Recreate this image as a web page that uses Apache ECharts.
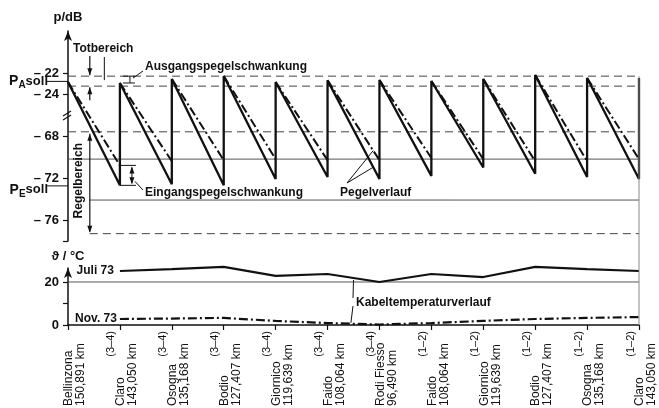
<!DOCTYPE html>
<html><head><meta charset="utf-8">
<script src="https://cdn.jsdelivr.net/npm/echarts@6/dist/echarts.min.js"></script>
<style>html,body{margin:0;padding:0;background:#fff}#c{width:659px;height:408px}</style>
</head><body><div id="c"></div>
<script>
// ---- data ----
const stationNames = ['Bellinzona','Claro','Osogna','Bodio','Giornico','Faido','Rodi Fiesso','Faido','Giornico','Bodio','Osogna','Claro'];
const stationKm = ['150,891 km','143,050 km','135,168 km','127,407 km','119,639 km','108,064 km','96,490 km','108,064 km','119,639 km','127,407 km','135,168 km','143,050 km'];
const sectionLabels = ['','(3–4)','(3–4)','(3–4)','(3–4)','(3–4)','(3–4)','(1–2)','(1–2)','(1–2)','(1–2)','(1–2)'];
// output level at the start of each section (dB), per station
const toothTop = [-22.86,-22.95,-22.57,-22.29,-22.86,-22.7,-22.67,-22.76,-22.57,-22.19,-22.48,-22.48];
// level at the end of each section, July (solid, dB)
const levelEndJuli = [-72.7,-72.6,-72.7,-72.1,-71.9,-72.1,-71.8,-71.0,-71.6,-71.9,-72.1];
// level at the end of each section, November (dash-dot, dB)
const levelEndNov = [-70.8,-70.4,-70.3,-70.2,-70.3,-70.3,-70.1,-70.2,-70.4,-70.4,-70.2];
// temperature (°C) at stations 1..11
const tempStations = [1,2,3,4,5,6,7,8,9,10,11];
const tempJuli = [25.1,26.0,27.0,22.8,23.7,20.0,23.7,22.3,27.0,26.0,25.1];
const tempNov = [2.8,3.0,3.3,1.9,0.9,0.2,0.9,1.9,2.8,3.3,3.7];
// reference levels (dB)
const levelTotUpper = -22.3, levelTotLower = -23.25, levelPAsoll = -22.8;
const levelRegelUpper = -67.6, levelThinUpper = -70.2, levelPEsoll = -72.75, levelThinLower = -74.1, levelRegelLower = -77.3;
const tempRef = 20;
const yTicksDb = [-22,-24,-68,-72,-76];

// broken axis: upper band shifted by 40 dB
const SHIFT = 40;
const vy = db => db > -45 ? db - SHIFT : db;
const realDb = v => v > -66 ? v + SHIFT : v;

const chart = echarts.init(document.getElementById('c'), null, {renderer:'canvas'});
const FONT = 'Liberation Sans, Arial, sans-serif';
const INK = '#111';

const saw = [];
for (let i = 0; i < levelEndJuli.length; i++) { saw.push([i, vy(toothTop[i])]); saw.push([i+1, vy(levelEndJuli[i])]); }
saw.push([11, vy(toothTop[11])]);
const dash = [];
for (let i = 0; i < levelEndNov.length; i++) { dash.push([i, vy(toothTop[i])]); dash.push([i+1, vy(levelEndNov[i])]); dash.push([i+1, '-']); }

function hline(level, x0, type, xi, yi, color) {
  return {type:'line', xAxisIndex:xi, yAxisIndex:yi, symbol:'none', silent:true, animation:false,
    data:[[x0, level],[11, level]], lineStyle:{color:color||'#444', width:1, type:type}, z:1};
}

const option = {
  animation:false,
  backgroundColor:'#fff',
  grid:[
    {left:68, right:20, top:31, height:210, containLabel:false, outerBoundsMode:'none'},
    {left:68, right:20, top:268, height:57, containLabel:false, outerBoundsMode:'none'}
  ],
  xAxis:[
    {gridIndex:0, type:'value', min:0, max:11, show:false},
    {gridIndex:1, type:'value', min:0, max:11, interval:1,
      axisLine:{show:true, onZero:false, lineStyle:{color:INK, width:1.5}},
      axisTick:{show:true, inside:false, length:5, lineStyle:{color:INK, width:1.2}},
      splitLine:{show:false},
      axisLabel:{show:true, rotate:90, margin:6, verticalAlign:'bottom', padding:[0,0,3,0],
        color:INK, fontFamily:FONT, fontSize:11, showMinLabel:true, showMaxLabel:true,
        formatter:v => sectionLabels[Math.round(v)] || ''}},
    {gridIndex:1, type:'value', min:0, max:11, interval:1, position:'bottom',
      axisLine:{show:false}, axisTick:{show:false}, splitLine:{show:false},
      axisLabel:{show:true, rotate:90, margin:81, align:'left', verticalAlign:'top', padding:[-5,0,0,0],
        lineHeight:12, color:INK, fontFamily:FONT, fontSize:12, showMinLabel:true, showMaxLabel:true,
        formatter:v => stationNames[Math.round(v)] + '\n' + stationKm[Math.round(v)]}}
  ],
  yAxis:[
    {gridIndex:0, type:'value', min:-78, max:-58,
      name:'p/dB', nameLocation:'end', nameGap:7, nameTextStyle:{color:INK, fontFamily:FONT, fontSize:13, fontWeight:'bold', align:'center'},
      axisLine:{show:true, onZero:false, symbol:['none','arrow'], symbolSize:[6,10], lineStyle:{color:INK, width:1.5}},
      axisTick:{show:true, length:5, customValues:[-62,-64,-68,-72,-76,-78], lineStyle:{color:INK, width:1.2}},
      splitLine:{show:false},
      axisLabel:{show:true, margin:9, customValues:yTicksDb.map(vy), color:INK, fontFamily:FONT, fontSize:13, fontWeight:'bold',
        formatter:v => '– ' + Math.abs(Math.round(realDb(v)))}},
    {gridIndex:1, type:'value', min:0, max:26.5,
      name:'ϑ / °C', nameLocation:'end', nameGap:5, nameTextStyle:{color:INK, fontFamily:FONT, fontSize:13, fontWeight:'bold', align:'center'},
      axisLine:{show:true, onZero:false, symbol:['none','arrow'], symbolSize:[6,10], lineStyle:{color:INK, width:1.5}},
      axisTick:{show:true, length:5, customValues:[0,10,20], lineStyle:{color:INK, width:1.2}},
      splitLine:{show:false},
      axisLabel:{show:true, margin:9, customValues:[0,20], color:INK, fontFamily:FONT, fontSize:13, fontWeight:'bold'}}
  ],
  series:[
    hline(vy(levelTotUpper), 0, [8,5], 0, 0),
    hline(vy(levelTotLower), 0, [8,5], 0, 0),
    hline(vy(levelRegelUpper), 0, [8,5], 0, 0),
    hline(vy(levelThinUpper), 0, 'solid', 0, 0, '#555'),
    hline(vy(levelThinLower), 0.42, 'solid', 0, 0, '#555'),
    hline(vy(levelRegelLower), 0.42, [8,5], 0, 0),
    hline(tempRef, 0, 'solid', 1, 1, '#555'),
    {type:'line', xAxisIndex:0, yAxisIndex:0, symbol:'none', clip:false, data:saw, lineStyle:{color:INK, width:2.3}, z:3},
    {type:'line', xAxisIndex:0, yAxisIndex:0, symbol:'none', clip:false, data:dash, connectNulls:false, lineStyle:{color:INK, width:2, type:[9,3,2,3]}, z:3},
    {type:'line', xAxisIndex:1, yAxisIndex:1, symbol:'none', clip:false, data:tempStations.map((x,i)=>[x,tempJuli[i]]), lineStyle:{color:INK, width:2.2}, z:3},
    {type:'line', xAxisIndex:1, yAxisIndex:1, symbol:'none', clip:false, data:tempStations.map((x,i)=>[x,tempNov[i]]), lineStyle:{color:INK, width:2.2, type:[9,3,2,3]}, z:3}
  ]
};
chart.setOption(option);

// ---- annotations ----
const P0 = (x, db) => chart.convertToPixel({xAxisIndex:0, yAxisIndex:0}, [x, vy(db)]);
const P1 = (x, t) => chart.convertToPixel({xAxisIndex:1, yAxisIndex:1}, [x, t]);
const g = [];
const txt = (text, x, y, style) => g.push({type:'text', x:x, y:y, silent:true, z:10,
  style:Object.assign({text:text, fill:INK, font:'bold 12px ' + FONT, align:'left', verticalAlign:'middle'}, style || {})});
const ln = (x1,y1,x2,y2,w,c) => g.push({type:'line', silent:true, z:10, shape:{x1,y1,x2,y2}, style:{stroke:c||INK, lineWidth:w||1}});
const arrowHead = (x, y, dir) => { // tip at (x,y), dir +1 pointing down, -1 pointing up
  g.push({type:'polygon', silent:true, z:10, shape:{points:[[x,y],[x-2.5,y-7*dir],[x+2.5,y-7*dir]]}, style:{fill:INK}});
};

const ax = P0(0, levelTotUpper)[0];
const xArr = P0(0.42, levelTotUpper)[0];
// Totbereich
txt('Totbereich', ax + 5, 49);
const yTU = P0(0, levelTotUpper)[1], yTL = P0(0, levelTotLower)[1];
ln(xArr, 56, xArr, yTU - 1, 1.2); arrowHead(xArr, yTU - 1, 1);
ln(xArr, yTL + 14, xArr, yTL + 1, 1.2); arrowHead(xArr, yTL + 1, -1);
const xThin = P0(0.7, 0)[0];
ln(xThin, 57, xThin, yTU + 4, 1);
// Ausgangspegelschwankung
const x1 = P0(1, 0)[0];
const yTop1 = P0(1, toothTop[1])[1];
ln(x1 + 3, yTU, x1 + 15, yTU, 1); ln(x1 + 3, yTop1, x1 + 15, yTop1, 1); ln(x1 + 10, yTU, x1 + 10, yTop1, 1);
ln(x1 + 13, yTU + 2, 143, 71, 1);
txt('Ausgangspegelschwankung', 145, 67);
// Eingangspegelschwankung
const yU0 = P0(1, levelEndNov[0])[1], yL0 = P0(1, levelEndJuli[0])[1];
ln(x1, yU0, x1 + 16, yU0, 1); ln(x1, yL0, x1 + 16, yL0, 1);
ln(x1 + 12, yU0 + 2, x1 + 12, yL0 - 2, 1); arrowHead(x1 + 12, yU0 + 1, -1); arrowHead(x1 + 12, yL0 - 1, 1);
ln(x1 + 15, yL0 - 4, 143, 190, 1);
txt('Eingangspegelschwankung', 145, 193);
// Pegelverlauf (pointing to the July and November level lines of section 5)
const f = 0.88, s = 5;
const vN = vy(toothTop[s]) + f * (vy(levelEndNov[s]) - vy(toothTop[s]));
const vJ = vy(toothTop[s]) + f * (vy(levelEndJuli[s]) - vy(toothTop[s]));
const pN5 = chart.convertToPixel({xAxisIndex:0, yAxisIndex:0}, [s + f, vN]);
const pJ5 = chart.convertToPixel({xAxisIndex:0, yAxisIndex:0}, [s + f, vJ]);
ln(347, 183, pN5[0], pN5[1], 1); ln(347, 183, pJ5[0], pJ5[1], 1);
txt('Pegelverlauf', 340, 193);
// P_A soll / P_E soll
const yPA = P0(0, levelPAsoll)[1], yPE = P0(0, levelPEsoll)[1];
ln(47, yPA, ax, yPA, 1); ln(47, yPE, ax, yPE, 1);
const richPS = {p:{font:'bold 14px ' + FONT, fill:INK}, sub:{font:'bold 10px ' + FONT, fill:INK, padding:[8,0,0,0]}, s:{font:'bold 13px ' + FONT, fill:INK}};
txt('{p|P}{sub|A}{s|soll}', 48, yPA, {align:'right', rich:richPS});
txt('{p|P}{sub|E}{s|soll}', 48, yPE + 4, {align:'right', rich:richPS});
// Regelbereich
const yRU = P0(0, levelRegelUpper)[1], yRL = P0(0, levelRegelLower)[1];
ln(xArr, yRU + 2, xArr, yRL - 2, 1.2); arrowHead(xArr, yRU + 2, -1); arrowHead(xArr, yRL - 1, 1);
g.push({type:'text', x:79, y:(yRU + yRL) / 2 - 2, rotation:Math.PI/2, silent:true, z:10,
  style:{text:'Regelbereich', fill:INK, font:'bold 12px ' + FONT, align:'center', verticalAlign:'middle'}});
// axis break marks
const yb = (P0(0, -24)[1] + P0(0, -68)[1]) / 2 - 2;
ln(ax - 5, yb + 3, ax + 3, yb - 2, 1.2); ln(ax - 5, yb + 7, ax + 3, yb + 2, 1.2);
// right border
const xR = P0(11, 0)[0];
ln(xR, yTU, xR, P1(11, 0)[1], 1, '#888');
// temperature annotations
const pJ = P1(1, tempJuli[0]), pN = P1(1, tempNov[0]);
txt('Juli 73', pJ[0] - 6, pJ[1], {align:'right'});
txt('Nov. 73', pN[0] - 3, pN[1], {align:'right'});
const kJ = P1(5.5, (tempJuli[4] + tempJuli[5]) / 2), kN = P1(5.45, (tempNov[4] + tempNov[5]) / 2);
ln(353, 298, kJ[0], kJ[1] + 2, 1); ln(353, 306, kN[0], kN[1] - 1, 1);
txt('Kabeltemperaturverlauf', 356, 303);

chart.setOption({graphic:g});
</script>
</body></html>
